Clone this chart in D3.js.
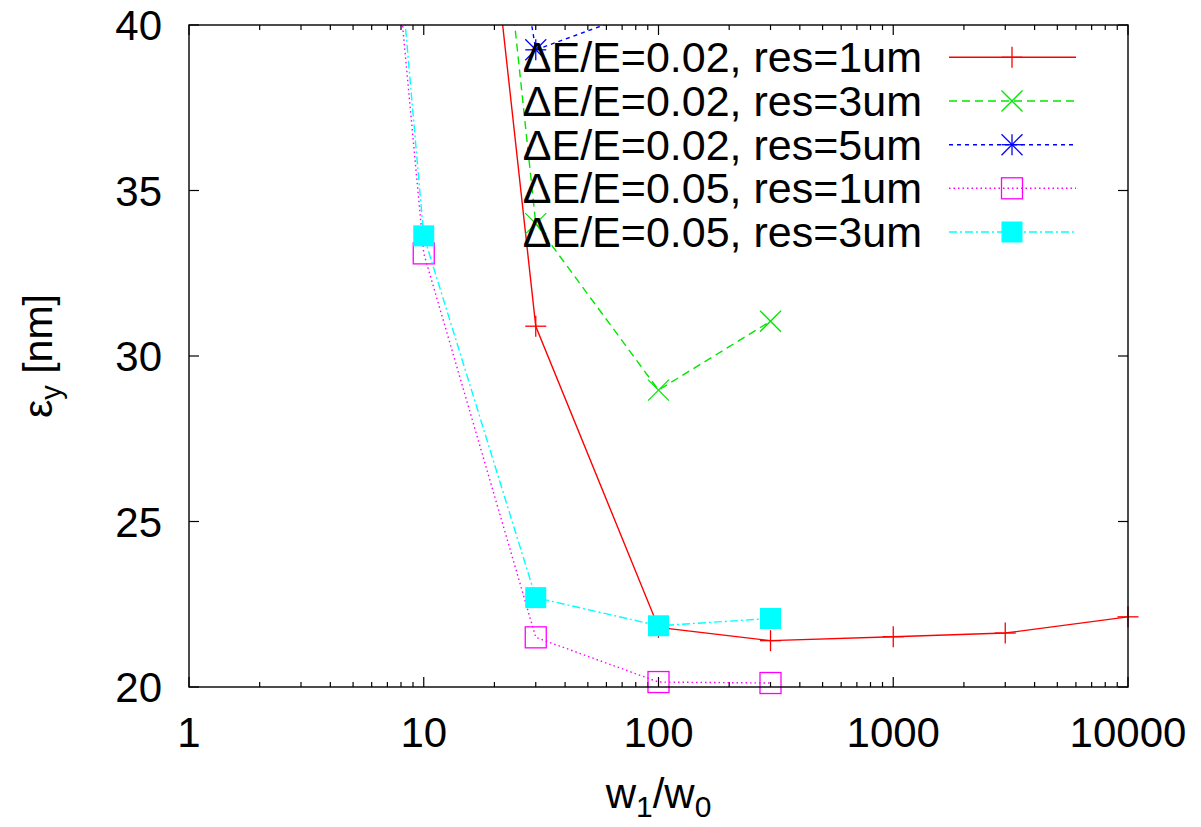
<!DOCTYPE html>
<html>
<head>
<meta charset="utf-8">
<script src="https://cdn.jsdelivr.net/npm/d3@7"></script>
<style>
  body { margin: 0; background: #fff; }
  svg { font-family: "Liberation Sans", Arial, Helvetica, sans-serif; }
</style>
</head>
<body>
<svg width="1201" height="827"></svg>
<script>
// values
const xTicks = [1, 10, 100, 1000, 10000];
const yTicks = [20, 25, 30, 35, 40];

const labels = [
  "\u0394E/E=0.02, res=1um",
  "\u0394E/E=0.02, res=3um",
  "\u0394E/E=0.02, res=5um",
  "\u0394E/E=0.05, res=1um",
  "\u0394E/E=0.05, res=3um"
];

const x1 = [10, 30, 100, 300, 1000, 3000, 10000];
const y1 = [61.7, 30.9, 21.8, 21.4, 21.52, 21.63, 22.12];

const x2 = [10, 30, 100, 300];
const y2 = [66, 34.0, 28.97, 31.05];

const x3 = [10, 30, 100];
const y3 = [60, 39.25, 40.6];

const x4 = [3, 10, 30, 100, 300];
const y4 = [73, 33.1, 21.5, 20.15, 20.12];

const x5 = [3, 10, 30, 100, 300];
const y5 = [76, 33.63, 22.7, 21.85, 22.07];

const series = [
  { name: labels[0], xs: x1, ys: y1, color: "#ff0000", dash: null, mark: "plus" },
  { name: labels[1], xs: x2, ys: y2, color: "#00e600", dash: "8,5", mark: "cross" },
  { name: labels[2], xs: x3, ys: y3, color: "#0000ff", dash: "4,4", mark: "star" },
  { name: labels[3], xs: x4, ys: y4, color: "#ff00ff", dash: "1.5,3", mark: "box" },
  { name: labels[4], xs: x5, ys: y5, color: "#00ffff", dash: "8,3,2,3", mark: "fbox" }
];

const svg = d3.select("svg");
const pLeft = 189, pRight = 1128, pTop = 25, pBottom = 687;

const xScale = d3.scaleLog().domain([1, 10000]).range([pLeft, pRight]);
const yScale = d3.scaleLinear().domain([20, 40]).range([pBottom, pTop]);

svg.append("clipPath").attr("id", "clip")
  .append("rect")
  .attr("x", pLeft).attr("y", pTop)
  .attr("width", pRight - pLeft).attr("height", pBottom - pTop);

// ticks (gnuplot style: inward, mirrored)
const tickG = svg.append("g").attr("stroke", "#000").attr("stroke-width", 1.2);
const minors = [];
for (let d = 1; d < 10000; d *= 10)
  for (let k = 2; k <= 9; k++) minors.push(d * k);

minors.forEach(v => {
  const px = xScale(v);
  tickG.append("line").attr("x1", px).attr("x2", px).attr("y1", pBottom).attr("y2", pBottom - 5);
  tickG.append("line").attr("x1", px).attr("x2", px).attr("y1", pTop).attr("y2", pTop + 5);
});
xTicks.forEach(v => {
  const px = xScale(v);
  tickG.append("line").attr("x1", px).attr("x2", px).attr("y1", pBottom).attr("y2", pBottom - 10);
  tickG.append("line").attr("x1", px).attr("x2", px).attr("y1", pTop).attr("y2", pTop + 10);
});
yTicks.forEach(v => {
  const py = yScale(v);
  tickG.append("line").attr("x1", pLeft).attr("x2", pLeft + 10).attr("y1", py).attr("y2", py);
  tickG.append("line").attr("x1", pRight).attr("x2", pRight - 10).attr("y1", py).attr("y2", py);
});

// tick labels
svg.append("g").selectAll("text")
  .data(xTicks)
  .enter()
  .append("text")
  .attr("x", d => xScale(d))
  .attr("y", 747)
  .attr("text-anchor", "middle")
  .attr("font-size", "42px")
  .text(d => d);

svg.append("g").selectAll("text")
  .data(yTicks)
  .enter()
  .append("text")
  .attr("x", 162)
  .attr("y", d => yScale(d) + 15)
  .attr("text-anchor", "end")
  .attr("font-size", "42px")
  .text(d => d);

// axis titles
const xt = svg.append("text")
  .attr("x", (pLeft + pRight) / 2)
  .attr("y", 808)
  .attr("text-anchor", "middle")
  .attr("font-size", "42px");
xt.append("tspan").text("w");
xt.append("tspan").attr("font-size", "30px").attr("dy", 9).text("1");
xt.append("tspan").attr("dy", -9).text("/w");
xt.append("tspan").attr("font-size", "30px").attr("dy", 9).text("0");

const yt = svg.append("text")
  .attr("transform", "translate(52,356) rotate(-90)")
  .attr("text-anchor", "middle")
  .attr("font-size", "41px");
yt.append("tspan").text("\u03b5");
yt.append("tspan").attr("font-size", "29px").attr("dy", 9).text("y");
yt.append("tspan").attr("dy", -9).text(" [nm]");

// markers
function drawMark(g, type, cx, cy, color) {
  const h = 10.5;
  const s = g.append("g").attr("stroke", color).attr("stroke-width", 1.3).attr("fill", "none");
  if (type === "plus" || type === "star") {
    s.append("line").attr("x1", cx - h).attr("x2", cx + h).attr("y1", cy).attr("y2", cy);
    s.append("line").attr("x1", cx).attr("x2", cx).attr("y1", cy - h).attr("y2", cy + h);
  }
  if (type === "cross" || type === "star") {
    s.append("line").attr("x1", cx - h).attr("x2", cx + h).attr("y1", cy - h).attr("y2", cy + h);
    s.append("line").attr("x1", cx - h).attr("x2", cx + h).attr("y1", cy + h).attr("y2", cy - h);
  }
  if (type === "box") {
    s.append("rect").attr("x", cx - h).attr("y", cy - h).attr("width", 2 * h).attr("height", 2 * h);
  }
  if (type === "fbox") {
    s.append("rect").attr("x", cx - h).attr("y", cy - h).attr("width", 2 * h).attr("height", 2 * h)
      .attr("fill", color).attr("stroke", "none");
  }
}

const line = d3.line().x(d => xScale(d[0])).y(d => yScale(d[1]));
const plot = svg.append("g");

series.forEach(s => {
  const pts = s.xs.map((v, i) => [v, s.ys[i]]);
  plot.append("path")
    .attr("clip-path", "url(#clip)")
    .attr("d", line(pts))
    .attr("fill", "none")
    .attr("stroke", s.color)
    .attr("stroke-width", 1.4)
    .attr("stroke-dasharray", s.dash);
  pts.filter(p => p[0] >= 1 && p[0] <= 10000 && p[1] >= 20 && p[1] <= 40)
    .forEach(p => drawMark(plot, s.mark, xScale(p[0]), yScale(p[1]), s.color));
});

// legend
const rowY = [57.3, 101, 144.7, 188.3, 232];
series.forEach((s, i) => {
  svg.append("text")
    .attr("x", 922)
    .attr("y", rowY[i] + 15)
    .attr("text-anchor", "end")
    .attr("font-size", "43px")
    .text(s.name);
  svg.append("line")
    .attr("x1", 949).attr("x2", 1076)
    .attr("y1", rowY[i]).attr("y2", rowY[i])
    .attr("stroke", s.color)
    .attr("stroke-width", 1.4)
    .attr("stroke-dasharray", s.dash);
  drawMark(svg, s.mark, 1012, rowY[i], s.color);
});

// border
svg.append("rect")
  .attr("x", pLeft).attr("y", pTop)
  .attr("width", pRight - pLeft).attr("height", pBottom - pTop)
  .attr("fill", "none")
  .attr("stroke", "#000")
  .attr("stroke-width", 1.4);
</script>
</body>
</html>
